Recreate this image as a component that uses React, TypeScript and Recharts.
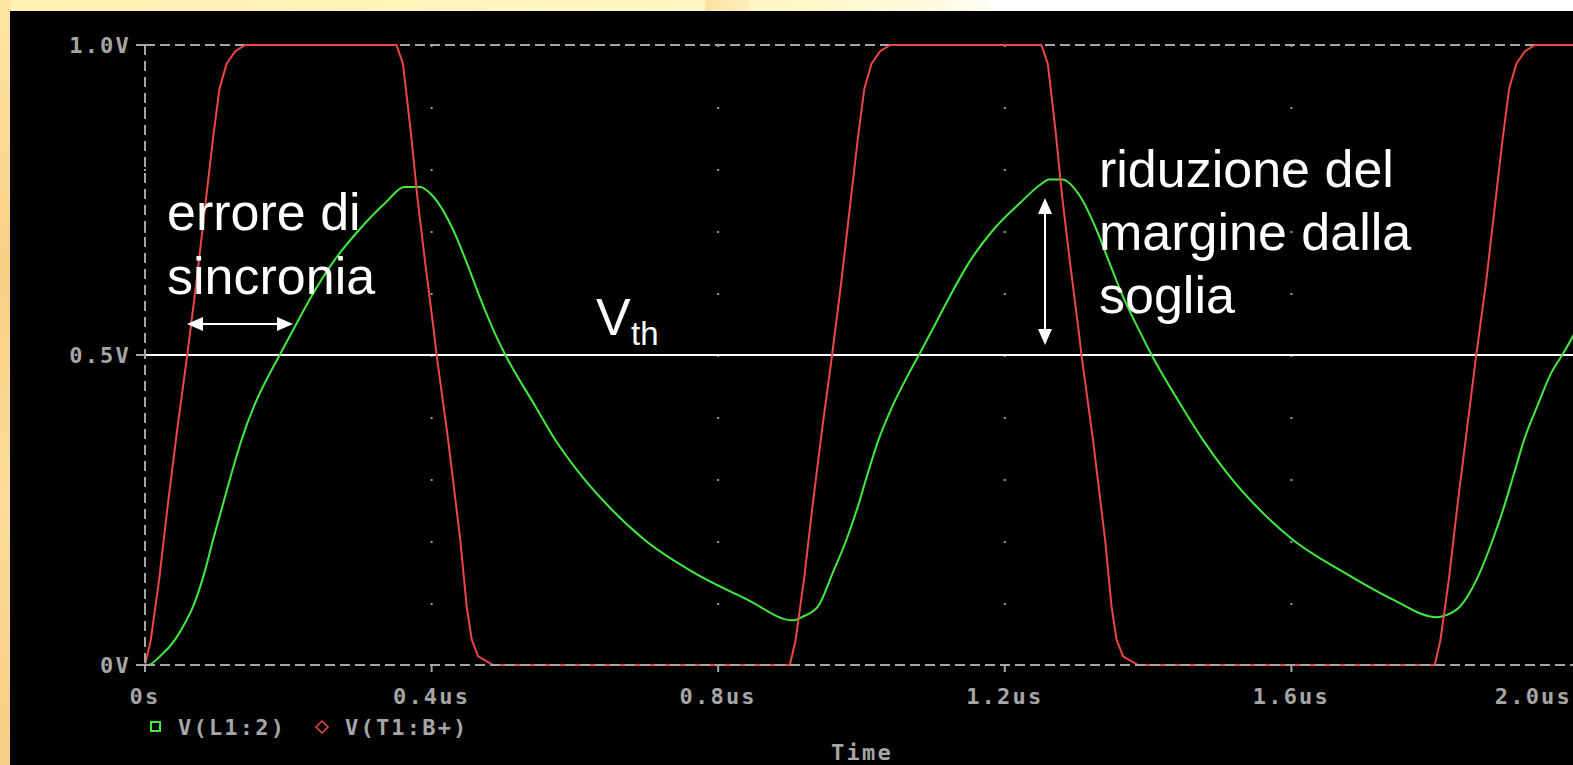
import React from "react";
import { CartesianGrid, Line, LineChart, ReferenceLine, XAxis, YAxis } from "recharts";

const timeTicks = [0, 0.4, 0.8, 1.2, 1.6, 2.0];
const timeTickLabels = ["0s", "0.4us", "0.8us", "1.2us", "1.6us", "2.0us"];
const voltTicks = [0, 0.5, 1.0];
const voltTickLabels = ["0V", "0.5V", "1.0V"];
const thresholdVolt = 0.5;

// V(L1:2) - green trace
const greenName = "V(L1:2)";
const greenTimes = [
  0, 0.004, 0.021, 0.042, 0.056, 0.067, 0.083, 0.095, 0.108, 0.121, 0.135, 0.152, 0.174, 0.188, 0.207,
  0.232, 0.262, 0.299, 0.336, 0.362, 0.384, 0.402, 0.43, 0.449, 0.467, 0.486, 0.503, 0.545, 0.572, 0.606,
  0.647, 0.697, 0.766, 0.84, 0.904, 0.918, 0.939, 0.96, 0.979, 0.995, 1.009, 1.024, 1.043, 1.066, 1.082,
  1.099, 1.123, 1.15, 1.184, 1.222, 1.25, 1.262, 1.28, 1.305, 1.328, 1.346, 1.365, 1.387, 1.405, 1.447,
  1.476, 1.51, 1.551, 1.602, 1.674, 1.741, 1.803, 1.815, 1.835, 1.863, 1.881, 1.897, 1.911, 1.925,
  1.943, 1.963, 1.978, 2.0,
];
const greenVolts = [
  0, 0, 0.014, 0.041, 0.068, 0.094, 0.149, 0.202, 0.256, 0.31, 0.364, 0.417, 0.47, 0.5, 0.541,
  0.594, 0.649, 0.702, 0.746, 0.771, 0.771, 0.756, 0.702, 0.649, 0.594, 0.541, 0.5, 0.417, 0.364, 0.31,
  0.256, 0.202, 0.149, 0.106, 0.072, 0.078, 0.094, 0.149, 0.202, 0.256, 0.31, 0.364, 0.417, 0.47, 0.504,
  0.541, 0.594, 0.649, 0.702, 0.746, 0.775, 0.783, 0.783, 0.756, 0.702, 0.649, 0.594, 0.541, 0.5, 0.417,
  0.364, 0.31, 0.256, 0.202, 0.149, 0.106, 0.077, 0.08, 0.094, 0.149, 0.202, 0.256, 0.31, 0.364,
  0.417, 0.472, 0.5, 0.545,
];

// V(T1:B+) - red trace
const redName = "V(T1:B+)";
const redTimes = [
  0, 0.008, 0.02, 0.032, 0.045, 0.059, 0.072, 0.084, 0.095, 0.104, 0.114, 0.126, 0.14,
  0.351, 0.36, 0.371, 0.38, 0.391, 0.403, 0.407, 0.423, 0.44, 0.449, 0.456, 0.465, 0.486,
  0.9, 0.908, 0.92, 0.932, 0.945, 0.959, 0.972, 0.984, 0.995, 1.004, 1.014, 1.026, 1.04,
  1.251, 1.26, 1.271, 1.28, 1.291, 1.303, 1.307, 1.323, 1.34, 1.349, 1.356, 1.365, 1.386,
  1.8, 1.808, 1.82, 1.832, 1.845, 1.858, 1.872, 1.884, 1.895, 1.904, 1.914, 1.926, 1.94, 2.0,
];
const redVolts = [
  0, 0.04, 0.14, 0.26, 0.38, 0.5, 0.62, 0.74, 0.85, 0.93, 0.97, 0.99, 1,
  1, 0.97, 0.86, 0.756, 0.649, 0.54, 0.5, 0.364, 0.202, 0.094, 0.041, 0.014, 0,
  0, 0.04, 0.14, 0.26, 0.38, 0.5, 0.62, 0.74, 0.85, 0.93, 0.97, 0.99, 1,
  1, 0.97, 0.86, 0.756, 0.649, 0.54, 0.5, 0.364, 0.202, 0.094, 0.041, 0.014, 0,
  0, 0.04, 0.14, 0.26, 0.38, 0.5, 0.62, 0.74, 0.85, 0.93, 0.97, 0.99, 1, 1,
];

const greenData = greenTimes.map((t, i) => ({ t, v: greenVolts[i] }));
const redData = redTimes.map((t, i) => ({ t, v: redVolts[i] }));

const GRAY = "#a6a6a6";
const GREEN = "#40ea40";
const RED = "#ec4646";

const pspiceFont: React.CSSProperties = {
  fontFamily: "'DejaVu Sans Mono', monospace",
  fontWeight: "bold",
  fontSize: 22,
  letterSpacing: 2.2,
  fill: GRAY,
};

const slideFont = { fontFamily: "'Liberation Sans', Arial, sans-serif", fill: "#ffffff" };

function TimeTick(props: any) {
  const { x, y, payload } = props;
  const i = timeTicks.indexOf(payload.value);
  const last = i === timeTicks.length - 1;
  return (
    <text x={last ? x - 6 : x} y={y} textAnchor={last ? "end" : "middle"} dominantBaseline="central" style={pspiceFont}>
      {timeTickLabels[i]}
    </text>
  );
}

function VoltTick(props: any) {
  const { x, y, payload } = props;
  const i = voltTicks.indexOf(payload.value);
  return (
    <text x={x} y={y} textAnchor="end" dominantBaseline="central" style={pspiceFont}>
      {voltTickLabels[i]}
    </text>
  );
}

export default function App() {
  return (
    <div
      style={{
        position: "absolute",
        left: 0,
        top: 0,
        width: 1573,
        height: 765,
        overflow: "hidden",
        background: "linear-gradient(to right, #fff1b4 0%, #fff6c4 50%, #fffbe2 60%, #ffffff 64%)",
      }}
    >
      <div style={{ position: "absolute", left: 705, top: 0, width: 45, height: 11, background: "linear-gradient(to right, #fde2a0, #fdeebc)" }} />
      <div
        style={{
          position: "absolute",
          left: 0,
          top: 0,
          width: 10,
          height: 765,
          background: "linear-gradient(to bottom, #fde6a4 0%, #f9cf86 35%, #fbdc98 65%, #f8cd86 100%)",
        }}
      />
      <div style={{ position: "absolute", left: 10, top: 11, right: 0, bottom: 0, background: "#000" }} />
      <div style={{ position: "absolute", left: 0, top: 0 }}>
        <LineChart width={1600} height={765} margin={{ top: 45, right: 22, bottom: 40, left: 0 }}>
          <CartesianGrid horizontal={false} stroke="#9a9a9a" strokeWidth={2} strokeDasharray="2 60" />
          <XAxis
            dataKey="t"
            type="number"
            domain={[0, 2]}
            ticks={timeTicks}
            height={60}
            tickSize={7}
            tickMargin={24}
            tick={<TimeTick />}
            tickLine={{ stroke: GRAY, strokeWidth: 2 }}
            axisLine={{ stroke: GRAY, strokeWidth: 2, strokeDasharray: "10 5" }}
            allowDataOverflow
          />
          <YAxis
            type="number"
            domain={[0, 1]}
            ticks={voltTicks}
            width={145}
            tickSize={9}
            tickMargin={5}
            tick={<VoltTick />}
            tickLine={{ stroke: GRAY, strokeWidth: 2 }}
            axisLine={{ stroke: GRAY, strokeWidth: 2, strokeDasharray: "10 6" }}
          />
          <ReferenceLine y={1} stroke={GRAY} strokeWidth={2} strokeDasharray="10 5" />
          <ReferenceLine y={thresholdVolt} stroke="#ffffff" strokeWidth={2} />
          <Line
            data={greenData}
            dataKey="v"
            name={greenName}
            type="monotone"
            stroke={GREEN}
            strokeWidth={2}
            dot={false}
            isAnimationActive={false}
          />
          <Line
            data={redData}
            dataKey="v"
            name={redName}
            type="linear"
            stroke={RED}
            strokeWidth={2}
            dot={false}
            isAnimationActive={false}
          />
        </LineChart>
      </div>
      <svg width={1573} height={765} style={{ position: "absolute", left: 0, top: 0, pointerEvents: "none" }}>
        {/* legend */}
        <rect x={151} y={722} width={9} height={9} fill="none" stroke={GREEN} strokeWidth={2} />
        <text x={178} y={727} dominantBaseline="central" style={pspiceFont}>{greenName}</text>
        <polygon points="322,721 328,727 322,733 316,727" fill="none" stroke={RED} strokeWidth={1.5} />
        <text x={345} y={727} dominantBaseline="central" style={pspiceFont}>{redName}</text>
        <text x={862} y={752} textAnchor="middle" dominantBaseline="central" style={pspiceFont}>Time</text>

        {/* annotations */}
        <text x={167} y={230} fontSize={52} style={slideFont}>errore di</text>
        <text x={167} y={294} fontSize={52} style={slideFont}>sincronia</text>
        <line x1={200} y1={324} x2={280} y2={324} stroke="#fff" strokeWidth={2} />
        <polygon points="187,324 203,317 203,331" fill="#fff" />
        <polygon points="293,324 277,317 277,331" fill="#fff" />

        <text x={596} y={335} fontSize={52} style={slideFont}>V</text>
        <text x={631} y={345} fontSize={33} style={slideFont}>th</text>

        <text x={1099} y={187} fontSize={52} style={slideFont}>riduzione del</text>
        <text x={1099} y={250} fontSize={52} style={slideFont}>margine dalla</text>
        <text x={1099} y={313} fontSize={52} style={slideFont}>soglia</text>
        <line x1={1045} y1={212} x2={1045} y2={331} stroke="#fff" strokeWidth={2} />
        <polygon points="1045,198 1038,214 1052,214" fill="#fff" />
        <polygon points="1045,345 1038,329 1052,329" fill="#fff" />
      </svg>
    </div>
  );
}
